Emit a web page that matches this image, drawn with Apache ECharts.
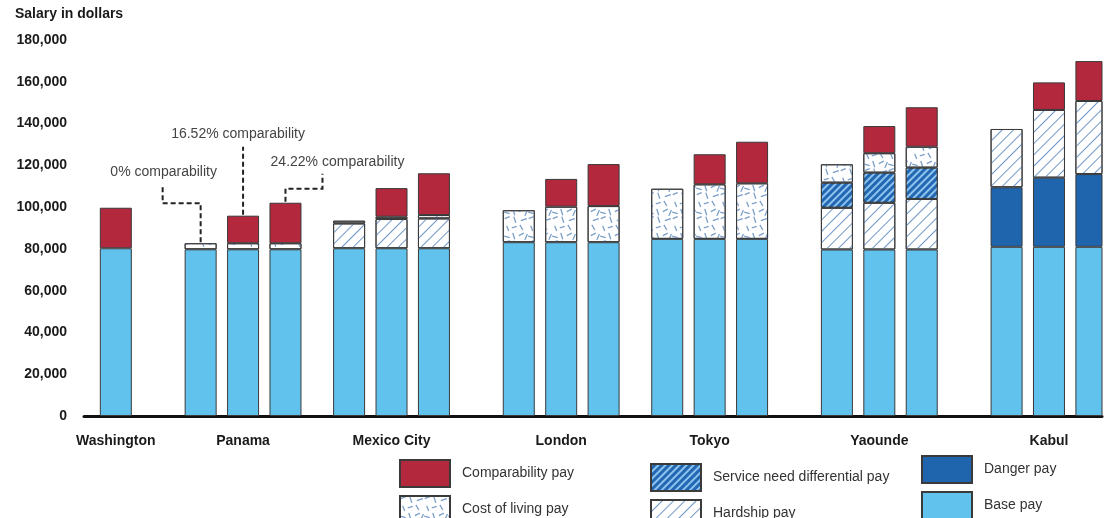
<!DOCTYPE html>
<html><head><meta charset="utf-8">
<script src="https://cdn.jsdelivr.net/npm/echarts@6/dist/echarts.min.js"></script>
<style>html,body{margin:0;padding:0;background:#fff}#c{width:1109px;height:518px}</style>
</head><body><div id="c"></div>
<script>
// ---------------- DATA ----------------
const cities = ['Washington','Panama','Mexico City','London','Tokyo','Yaounde','Kabul'];
const barsPerCity = [1,3,3,3,3,3,3];
// one value per bar, in city order (Washington 1 bar, the others 3 bars: 0%, 16.52%, 24.22% comparability)
const basePay          = [80300, 79800,79800,79800, 80300,80300,80300, 83200,83200,83200, 84800,84800,84800, 79700,79700,79700, 81000,81000,81000];
const dangerPay        = [0,     0,0,0,             0,0,0,             0,0,0,             0,0,0,             0,0,0,             28500,33100,34800];
const hardshipPay      = [0,     0,0,0,             11900,14000,14300, 0,0,0,             0,0,0,             20000,22400,24200, 27900,32400,35000];
const serviceNeedPay   = [0,     0,0,0,             0,0,0,             0,0,0,             0,0,0,             12000,14400,15000, 0,0,0];
const costOfLivingPay  = [0,     2900,2900,2900,    1300,1100,1600,    15300,17000,17300, 24000,26100,26600, 8800,9300,10000,  0,0,0];
const comparabilityPay = [19400, 0,13200,19400,     0,13700,20000,     0,13300,20100,     0,14400,19900,     0,13000,18900,     0,13200,19100];
const yTickStep = 20000;
const yMax = 180000;
const notes = ['0% comparability','16.52% comparability','24.22% comparability'];

// ---------------- LAYOUT ----------------
const groupStartSlot = [1,5,12,20,27,35,43];
const slotStep = 2;
const totalSlots = 48;
const FONT = 'Liberation Sans, Arial, sans-serif';

const barSlots = [];
const labelAtSlot = {};
cities.forEach((c, ci) => {
  for (let j = 0; j < barsPerCity[ci]; j++) barSlots.push(groupStartSlot[ci] + j * slotStep);
  labelAtSlot[groupStartSlot[ci] + Math.floor((barsPerCity[ci]-1)/2) * slotStep] = c;
});
const slotNames = Array.from({length: totalSlots}, (_, i) => 's' + i);

function toSlots(arr) {
  const d = new Array(totalSlots).fill('-');
  barSlots.forEach((s, i) => { if (arr[i]) d[s] = arr[i]; });
  return d;
}

// decal patterns
function confettiPath() {
  const strokes = [[1,3,6,1],[10,1,12,7],[17,5,23,3],[3,10,5,15],[8,12,13,10.5],[16,9,19,14],[0.5,20,6,21.5],[9,17,11,23],[15,19.5,20,17],[21,23.5,23.5,18]];
  let p = '';
  strokes.forEach(([x1,y1,x2,y2]) => {
    const dx = x2-x1, dy = y2-y1, L = Math.hypot(dx,dy);
    const nx = -dy/L*0.65, ny = dx/L*0.65;
    const f = v => v.toFixed(2);
    p += 'M'+f(x1+nx)+' '+f(y1+ny)+' L'+f(x2+nx)+' '+f(y2+ny)+' L'+f(x2-nx)+' '+f(y2-ny)+' L'+f(x1-nx)+' '+f(y1-ny)+' Z ';
  });
  return 'path://' + p;
}
const hardshipDecal = {symbol:'rect', symbolSize:1, color:'#6f97c8', dashArrayX:[1,0], dashArrayY:[1,7], rotation: -Math.PI/4};
const serviceDecal  = {symbol:'rect', symbolSize:1, color:'#8cc4ef', dashArrayX:[1,0], dashArrayY:[2,2.5], rotation: -Math.PI/4};
const confettiDecal = {symbol: confettiPath(), symbolSize:1, symbolKeepAspect:false, color:'#7d9fcb', dashArrayX:[24,0], dashArrayY:[24,0], rotation:0};

const border = {borderColor:'#3a3a3a', borderWidth:1};
function mk(name, arr, style) {
  return {name, type:'bar', stack:'pay', data: toSlots(arr), barWidth:32,
    itemStyle: Object.assign({}, border, style), emphasis:{disabled:true}};
}

const series = [
  mk('Base pay', basePay, {color:'#62c2ee'}),
  mk('Danger pay', dangerPay, {color:'#1f65ae'}),
  mk('Hardship pay', hardshipPay, {color:'#ffffff', decal: hardshipDecal}),
  mk('Service need differential pay', serviceNeedPay, {color:'#2367b2', decal: serviceDecal}),
  mk('Cost of living pay', costOfLivingPay, {color:'#ffffff', decal: confettiDecal}),
  mk('Comparability pay', comparabilityPay, {color:'#b3283d'})
];

const legendCommon = {orient:'vertical', padding:0, height:90, itemWidth:50, itemHeight:27, itemGap:7, icon:'rect', selectedMode:false,
  textStyle:{fontFamily:FONT, fontSize:14, color:'#333', padding:[0,0,0,7]}};

const chart = echarts.init(document.getElementById('c'));
chart.setOption({
  animation:false,
  backgroundColor:'#ffffff',
  title:{text:'Salary in dollars', left:10, top:2, textStyle:{fontFamily:FONT, fontSize:14, fontWeight:'bold', color:'#1a1a1a'}},
  grid:{left:84, top:40, width:1018, bottom:102, containLabel:false},
  xAxis:{type:'category', data:slotNames, boundaryGap:true,
    axisLine:{lineStyle:{color:'#111', width:3}}, axisTick:{show:false},
    axisLabel:{interval:0, margin:18, fontFamily:FONT, fontSize:14, fontWeight:'bold', color:'#1a1a1a',
      formatter:(v, i) => labelAtSlot[i] || ''}},
  yAxis:{type:'value', min:0, max:yMax, interval:yTickStep,
    axisLine:{show:false}, axisTick:{show:false}, splitLine:{show:false},
    axisLabel:{margin:17, fontFamily:FONT, fontSize:14, fontWeight:'bold', color:'#1a1a1a',
      formatter: v => String(v).replace(/\B(?=(\d{3})+(?!\d))/g, ',')}},
  legend:[
    Object.assign({}, legendCommon, {left:399, top:459, data:['Comparability pay','Cost of living pay']}),
    Object.assign({}, legendCommon, {left:650, top:463, data:['Service need differential pay','Hardship pay']}),
    Object.assign({}, legendCommon, {left:921, top:455, data:['Danger pay','Base pay']})
  ],
  series
});

// annotations for Panama bars, anchored to the bar tops via the chart's scales
function barTop(barIdx) {
  const total = basePay[barIdx]+dangerPay[barIdx]+hardshipPay[barIdx]+serviceNeedPay[barIdx]+costOfLivingPay[barIdx]+comparabilityPay[barIdx];
  return chart.convertToPixel({xAxisIndex:0, yAxisIndex:0}, [barSlots[barIdx], total]);
}
const p1 = barTop(1), p2 = barTop(2), p3 = barTop(3);
const dash = {stroke:'#222', lineWidth:2, lineDash:[5,3], fill:null};
const txt = (x, y, t) => ({type:'text', x, y, style:{text:t, fill:'#444', font:'14px ' + FONT, textAlign:'center', textVerticalAlign:'middle'}});
chart.setOption({graphic:[
  {type:'polyline', shape:{points:[[p1[0], p1[1]-1],[p1[0], p1[1]-40],[p1[0]-38, p1[1]-40],[p1[0]-38, p1[1]-57]]}, style:dash},
  txt(p1[0]-37, p1[1]-71, notes[0]),
  {type:'polyline', shape:{points:[[p2[0], p2[1]-1],[p2[0], p2[1]-69]]}, style:dash},
  txt(p2[0]-5, p2[1]-82, notes[1]),
  {type:'polyline', shape:{points:[[p3[0], p3[1]-1],[p3[0], p3[1]-14],[p3[0]+37, p3[1]-14],[p3[0]+37, p3[1]-29]]}, style:dash},
  txt(p3[0]+52, p3[1]-41, notes[2])
]});
</script></body></html>
